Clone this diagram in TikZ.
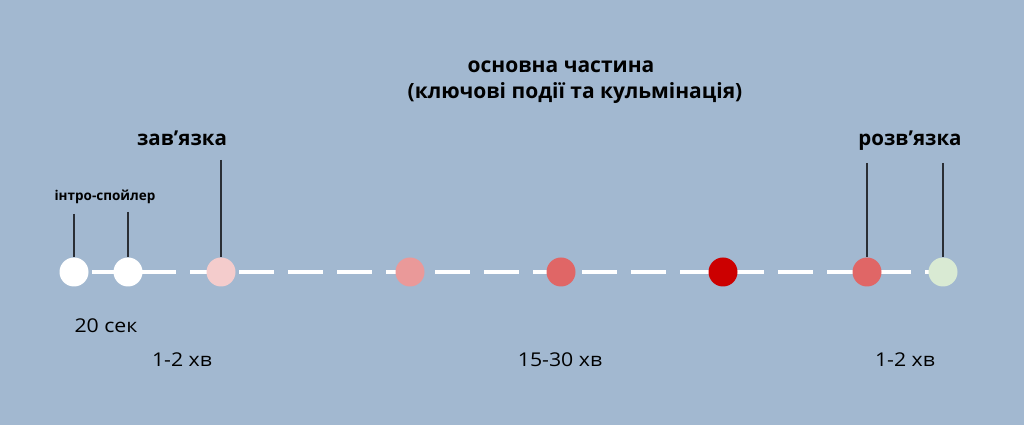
\documentclass[tikz,border=0pt]{standalone}
\usepackage{fontspec}
\setmainfont{Open Sans}
\newfontfamily\widefont[FakeStretch=1.12]{Open Sans}
\definecolor{bg}{HTML}{A2B8D0}
\definecolor{pinkA}{HTML}{F4CCCC}
\definecolor{pinkB}{HTML}{EA9999}
\definecolor{redC}{HTML}{E06666}
\definecolor{redD}{HTML}{CC0000}
\definecolor{greenA}{HTML}{D9EAD3}
\definecolor{stem}{HTML}{2A2E35}
\tikzset{
  dot/.style={circle, minimum size=29pt, inner sep=0pt, fill=#1},
  stemline/.style={draw=stem, line width=1.4pt},
  head/.style={font=\bfseries\fontsize{20.5}{24}\selectfont, inner sep=0pt, anchor=base},
  titl/.style={font=\bfseries\fontsize{21}{24}\selectfont, inner sep=0pt, anchor=base},
  small/.style={font=\bfseries\fontsize{13.5}{15}\selectfont, inner sep=0pt, anchor=base},
  dur/.style={font=\widefont\fontsize{19}{22}\selectfont, inner sep=0pt, anchor=base},
}
\begin{document}
\begin{tikzpicture}[x=1pt,y=1pt]
\fill[bg] (0,0) rectangle (1024,425);
\useasboundingbox (0,0) rectangle (1024,425);
\coordinate (ls) at (92,153);
\coordinate (le) at (943,153);
\draw[white, line width=4.5pt, dash pattern=on 35pt off 14pt] (ls) -- (le);
\node[dot=white] (c1) at (74,153) {};
\node[dot=white] (c2) at (128,153) {};
\node[dot=pinkA] (c3) at (221,153) {};
\node[dot=pinkB] (c4) at (410,153) {};
\node[dot=redC] (c5) at (561,153) {};
\node[dot=redD] (c6) at (723,153) {};
\node[dot=redC] (c7) at (867,153) {};
\node[dot=greenA] (c8) at (943,153) {};
\coordinate (t1) at (74,211);
\coordinate (t2) at (128,213);
\coordinate (t3) at (221,265);
\coordinate (t7) at (867,262);
\coordinate (t8) at (943,262);
\draw[stemline] (t1) -- (c1.north);
\draw[stemline] (t2) -- (c2.north);
\draw[stemline] (t3) -- (c3.north);
\draw[stemline] (t7) -- (c7.north);
\draw[stemline] (t8) -- (c8.north);
\node[small] (intro) at (105,224) {інтро-спойлер};
\node[head] (zav) at (182,279) {зав’язка};
\node[head] (roz) at (910,279) {розв’язка};
\node[titl] (main1) at (561,352) {основна частина};
\node[titl] (main2) at (575,326) {(ключові події та кульмінація)};
\node[dur] (d1) at (106,92) {20 сек};
\node[dur] (d2) at (182,58) {1-2 хв};
\node[dur] (d3) at (560,58) {15-30 хв};
\node[dur] (d4) at (905,58) {1-2 хв};
\end{tikzpicture}
\end{document}
